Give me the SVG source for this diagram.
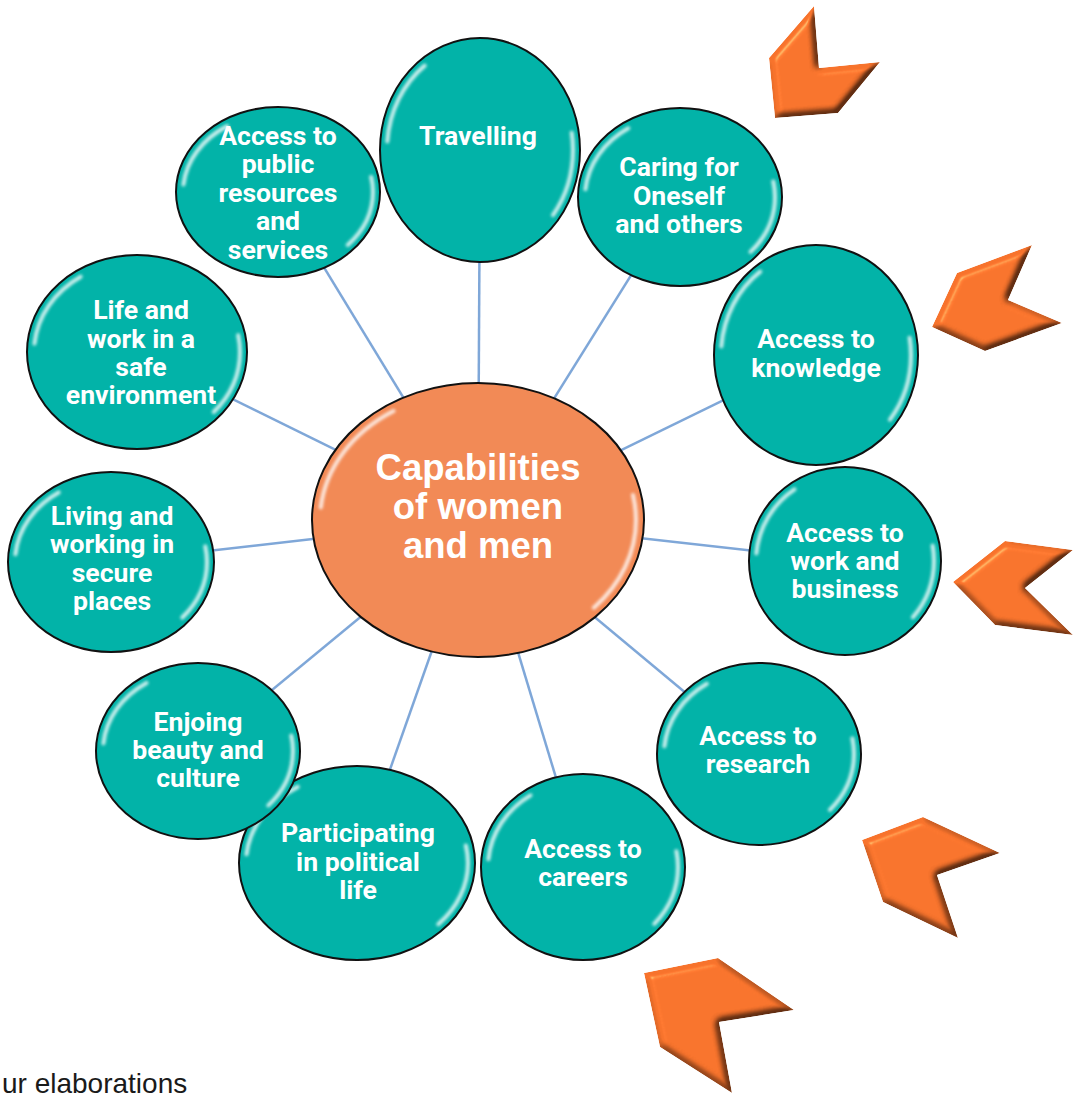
<svg xmlns="http://www.w3.org/2000/svg" width="1075" height="1097" viewBox="0 0 1075 1097">
  <defs>
    <style>
      .link { stroke: #7fa7d8; stroke-width: 2.5; fill: none; }
      .bubble { fill: #02b3a8; stroke: #111; stroke-width: 2; }
      .core { fill: #f28a56; stroke: #111; stroke-width: 2; }
      .gloss { fill: none; stroke: #ffffff; stroke-width: 4; stroke-linecap: round; opacity: 0.8; filter: url(#soft); stroke-dasharray: 13.9 40.3 13.9 31.9; stroke-dashoffset: 2.8; }
      .label { font-family: Roboto, "Liberation Sans", sans-serif; font-weight: 700; font-size: 26.6px; fill: #ffffff; text-anchor: middle; }
      .title { font-family: "Liberation Sans", Arial, sans-serif; font-weight: 700; font-size: 36.5px; fill: #ffffff; text-anchor: middle; }
      .note { font-family: "Liberation Sans", Arial, sans-serif; font-size: 28px; fill: #1a1a1a; }
      .chevron { fill: #f7732c; filter: url(#bevel); }
    </style>
    <filter id="soft" x="-10%" y="-10%" width="120%" height="120%">
      <feGaussianBlur stdDeviation="1.6"/>
    </filter>
    <filter id="bevel" x="-10%" y="-10%" width="120%" height="120%" color-interpolation-filters="sRGB">
      <feGaussianBlur in="SourceAlpha" stdDeviation="3.6" result="bump"/>
      <feDiffuseLighting in="bump" surfaceScale="8" diffuseConstant="1.25" lighting-color="#ffffff" result="diff">
        <feDistantLight azimuth="225" elevation="53"/>
      </feDiffuseLighting>
      <feComposite in="SourceGraphic" in2="diff" operator="arithmetic" k1="0.6" k2="0.4" k3="0" k4="0" result="lit"/>
      <feSpecularLighting in="bump" surfaceScale="8" specularConstant="0.5" specularExponent="35" lighting-color="#ffd9b8" result="spec">
        <feDistantLight azimuth="225" elevation="40"/>
      </feSpecularLighting>
      <feComposite in="spec" in2="SourceAlpha" operator="in" result="specIn"/>
      <feComposite in="lit" in2="specIn" operator="arithmetic" k1="0" k2="1" k3="0.6" k4="0" result="shaded"/>
      <feComposite in="shaded" in2="SourceAlpha" operator="in"/>
    </filter>
  </defs>

  <rect width="1075" height="1097" fill="#ffffff"/>

  <!-- spokes from the hub to every capability bubble -->
  <g id="connectors">
    <line class="link" x1="478" y1="520" x2="480" y2="150"/>
    <line class="link" x1="478" y1="520" x2="680" y2="197"/>
    <line class="link" x1="478" y1="520" x2="816" y2="355"/>
    <line class="link" x1="478" y1="520" x2="845" y2="561"/>
    <line class="link" x1="478" y1="520" x2="759" y2="754"/>
    <line class="link" x1="478" y1="520" x2="583" y2="867"/>
    <line class="link" x1="478" y1="520" x2="357" y2="863"/>
    <line class="link" x1="478" y1="520" x2="198" y2="751"/>
    <line class="link" x1="478" y1="520" x2="111" y2="562"/>
    <line class="link" x1="478" y1="520" x2="137" y2="352"/>
    <line class="link" x1="478" y1="520" x2="278" y2="192"/>
  </g>

  <g id="travelling">
    <ellipse class="bubble" cx="480" cy="150" rx="100" ry="112"/>
    <ellipse class="gloss" cx="480" cy="150" rx="93" ry="105" pathLength="100"/>
    <text class="label" x="478" y="145">Travelling</text>
  </g>

  <g id="caring">
    <ellipse class="bubble" cx="680" cy="197" rx="102" ry="89"/>
    <ellipse class="gloss" cx="680" cy="197" rx="95" ry="82" pathLength="100"/>
    <text class="label" x="679" y="176">Caring for</text>
    <text class="label" x="679" y="205">Oneself</text>
    <text class="label" x="679" y="233">and others</text>
  </g>

  <g id="knowledge">
    <ellipse class="bubble" cx="816" cy="355" rx="102" ry="110"/>
    <ellipse class="gloss" cx="816" cy="355" rx="95" ry="103" pathLength="100"/>
    <text class="label" x="816" y="348">Access to</text>
    <text class="label" x="816" y="377">knowledge</text>
  </g>

  <g id="work-business">
    <ellipse class="bubble" cx="845" cy="561" rx="96" ry="94"/>
    <ellipse class="gloss" cx="845" cy="561" rx="89" ry="87" pathLength="100"/>
    <text class="label" x="845" y="542">Access to</text>
    <text class="label" x="845" y="570">work and</text>
    <text class="label" x="845" y="598">business</text>
  </g>

  <g id="research">
    <ellipse class="bubble" cx="759" cy="754" rx="102" ry="91"/>
    <ellipse class="gloss" cx="759" cy="754" rx="95" ry="84" pathLength="100"/>
    <text class="label" x="758" y="745">Access to</text>
    <text class="label" x="758" y="773">research</text>
  </g>

  <g id="careers">
    <ellipse class="bubble" cx="583" cy="867" rx="102" ry="93"/>
    <ellipse class="gloss" cx="583" cy="867" rx="95" ry="86" pathLength="100"/>
    <text class="label" x="583" y="858">Access to</text>
    <text class="label" x="583" y="886">careers</text>
  </g>

  <g id="political-life">
    <ellipse class="bubble" cx="357" cy="863" rx="118" ry="97"/>
    <ellipse class="gloss" cx="357" cy="863" rx="111" ry="90" pathLength="100"/>
    <text class="label" x="358" y="842">Participating</text>
    <text class="label" x="358" y="871">in political</text>
    <text class="label" x="358" y="899">life</text>
  </g>

  <g id="beauty-culture">
    <ellipse class="bubble" cx="198" cy="751" rx="102" ry="88"/>
    <ellipse class="gloss" cx="198" cy="751" rx="95" ry="81" pathLength="100"/>
    <text class="label" x="198" y="731">Enjoing</text>
    <text class="label" x="198" y="759">beauty and</text>
    <text class="label" x="198" y="787">culture</text>
  </g>

  <g id="secure-places">
    <ellipse class="bubble" cx="111" cy="562" rx="103" ry="90"/>
    <ellipse class="gloss" cx="111" cy="562" rx="96" ry="83" pathLength="100"/>
    <text class="label" x="112" y="525">Living and</text>
    <text class="label" x="112" y="553">working in</text>
    <text class="label" x="112" y="582">secure</text>
    <text class="label" x="112" y="610">places</text>
  </g>

  <g id="safe-environment">
    <ellipse class="bubble" cx="137" cy="352" rx="110" ry="97"/>
    <ellipse class="gloss" cx="137" cy="352" rx="103" ry="90" pathLength="100"/>
    <text class="label" x="141" y="319">Life and</text>
    <text class="label" x="141" y="348">work in a</text>
    <text class="label" x="141" y="376">safe</text>
    <text class="label" x="141" y="404">environment</text>
  </g>

  <g id="public-resources">
    <ellipse class="bubble" cx="278" cy="192" rx="102" ry="85"/>
    <ellipse class="gloss" cx="278" cy="192" rx="95" ry="78" pathLength="100"/>
    <text class="label" x="278" y="145">Access to</text>
    <text class="label" x="278" y="173">public</text>
    <text class="label" x="278" y="202">resources</text>
    <text class="label" x="278" y="230">and</text>
    <text class="label" x="278" y="259">services</text>
  </g>

  <g id="hub">
    <ellipse class="core" cx="478" cy="520" rx="166" ry="137"/>
    <ellipse class="gloss" cx="478" cy="520" rx="158" ry="129" pathLength="100"/>
    <text class="title" x="478" y="480">Capabilities</text>
    <text class="title" x="478" y="519">of women</text>
    <text class="title" x="478" y="558">and men</text>
  </g>

  <!-- bevelled chevrons along the right side -->
  <g id="chevrons">
    <polygon class="chevron" points="814,6 819,68 880,62 838,113 775,118 769,58"/>
    <polygon class="chevron" points="1032,245 1008,300 1062,323 985,351 932,327 957,273"/>
    <polygon class="chevron" points="1073,550 1025,588 1073,635 995,625 953,582 1005,541"/>
    <polygon class="chevron" points="923,817 1000,853 937,875 958,938 883,902 862,840"/>
    <polygon class="chevron" points="644,973 718,958 794,1010 719,1022 732,1093 660,1047"/>
  </g>

  <text class="note" x="2" y="1093">ur elaborations</text>
</svg>
